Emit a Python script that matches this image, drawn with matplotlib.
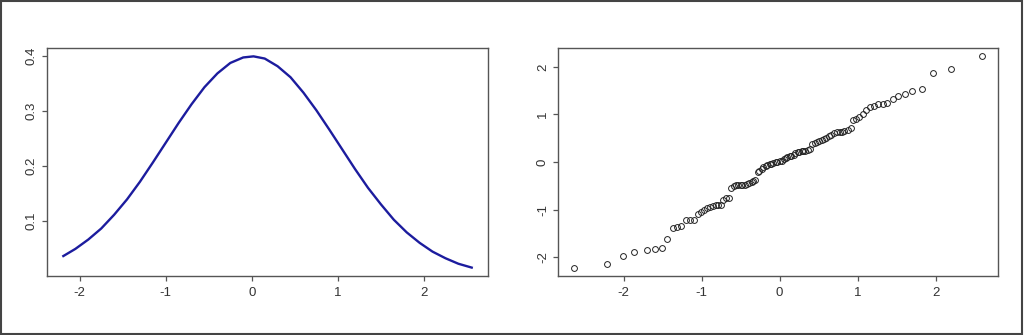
import matplotlib
matplotlib.use('Agg')
import matplotlib.pyplot as plt
from matplotlib.patches import Rectangle

# density curve (left panel)
dens_x = [-2.19, -2.05, -1.90, -1.75, -1.60, -1.45, -1.30, -1.15, -1.00, -0.85,
          -0.70, -0.55, -0.40, -0.25, -0.10, 0.02, 0.15, 0.30, 0.45, 0.60,
          0.75, 0.90, 1.05, 1.20, 1.35, 1.50, 1.65, 1.80, 1.95, 2.10,
          2.25, 2.40, 2.555]
dens_y = [0.036, 0.049, 0.066, 0.086, 0.111, 0.139, 0.171, 0.206, 0.242, 0.278,
          0.312, 0.343, 0.368, 0.387, 0.397, 0.399, 0.395, 0.381, 0.361, 0.333,
          0.301, 0.266, 0.230, 0.194, 0.160, 0.130, 0.102, 0.079, 0.060, 0.044,
          0.032, 0.022, 0.015]

# normal QQ points (right panel): theoretical quantiles vs sample values
qq_x = [-2.63, -2.21, -2.01, -1.86, -1.70, -1.60, -1.51, -1.44, -1.37, -1.31,
        -1.26, -1.20, -1.15, -1.10, -1.05, -1.01, -0.97, -0.93, -0.89, -0.86,
        -0.82, -0.79, -0.75, -0.72, -0.69, -0.65, -0.62, -0.59, -0.56, -0.53,
        -0.50, -0.48, -0.45, -0.42, -0.39, -0.36, -0.34, -0.31, -0.28, -0.26,
        -0.23, -0.21, -0.18, -0.16, -0.13, -0.11, -0.08, -0.05, -0.03, 0.00,
        0.03, 0.05, 0.08, 0.10, 0.13, 0.15, 0.18, 0.20, 0.23, 0.25,
        0.28, 0.30, 0.33, 0.36, 0.39, 0.42, 0.45, 0.48, 0.51, 0.54,
        0.57, 0.60, 0.63, 0.66, 0.70, 0.73, 0.77, 0.80, 0.83, 0.87,
        0.91, 0.94, 0.98, 1.02, 1.07, 1.11, 1.16, 1.21, 1.26, 1.32,
        1.38, 1.45, 1.52, 1.61, 1.70, 1.83, 1.97, 2.19, 2.59]
qq_y = [-2.22, -2.14, -1.98, -1.89, -1.86, -1.83, -1.81, -1.61, -1.38, -1.37,
        -1.35, -1.22, -1.22, -1.21, -1.09, -1.05, -1.01, -0.96, -0.94, -0.92,
        -0.91, -0.91, -0.91, -0.80, -0.76, -0.76, -0.54, -0.50, -0.49, -0.49,
        -0.49, -0.49, -0.48, -0.46, -0.45, -0.42, -0.39, -0.37, -0.21, -0.19,
        -0.14, -0.10, -0.08, -0.06, -0.05, -0.04, -0.02, -0.01, 0.00, 0.02,
        0.03, 0.06, 0.09, 0.11, 0.12, 0.13, 0.14, 0.18, 0.21, 0.22,
        0.23, 0.23, 0.23, 0.26, 0.28, 0.37, 0.40, 0.42, 0.44, 0.47,
        0.48, 0.51, 0.54, 0.56, 0.61, 0.62, 0.63, 0.64, 0.66, 0.68,
        0.71, 0.89, 0.91, 0.95, 1.01, 1.10, 1.15, 1.18, 1.21, 1.22,
        1.24, 1.32, 1.38, 1.43, 1.50, 1.54, 1.87, 1.95, 2.22]

plt.rcParams['font.family'] = ['Liberation Sans', 'DejaVu Sans']

fig = plt.figure(figsize=(10.24, 3.35), dpi=100)
fig.patches.append(Rectangle((0.001, 0.003), 0.997, 0.994, transform=fig.transFigure,
                             fill=False, edgecolor='#444444', linewidth=1.5))

ax1 = fig.add_axes([0.0459, 0.176, 0.4307, 0.681])
ax2 = fig.add_axes([0.545, 0.176, 0.4297, 0.681])

ax1.plot(dens_x, dens_y, color='#1c1c9e', linewidth=1.7)
ax1.set_xticks([-2, -1, 0, 1, 2])
ax1.set_xticklabels(['-2', '-1', '0', '1', '2'])
ax1.set_yticks([0.1, 0.2, 0.3, 0.4])

ax2.plot(qq_x, qq_y, linestyle='none', marker='o', markersize=4.2,
         markerfacecolor='none', markeredgecolor='#222222', markeredgewidth=0.7)
ax2.set_xticks([-2, -1, 0, 1, 2])
ax2.set_xticklabels(['-2', '-1', '0', '1', '2'])
ax2.set_yticks([-2, -1, 0, 1, 2])
ax2.set_yticklabels(['-2', '-1', '0', '1', '2'])

for ax in (ax1, ax2):
    ax.margins(x=0.04, y=0.04)
    for s in ax.spines.values():
        s.set_color('#555555')
        s.set_linewidth(1.0)
    ax.tick_params(direction='out', length=3.6, width=0.9, color='#555555',
                   labelsize=9.5, labelcolor='#333333')
    ax.tick_params(axis='x', pad=4.3)
    ax.tick_params(axis='y', pad=3)
    for lbl in ax.get_yticklabels():
        lbl.set_rotation(90)
        lbl.set_verticalalignment('center')

fig.savefig('out.png', dpi=100, facecolor='white')
